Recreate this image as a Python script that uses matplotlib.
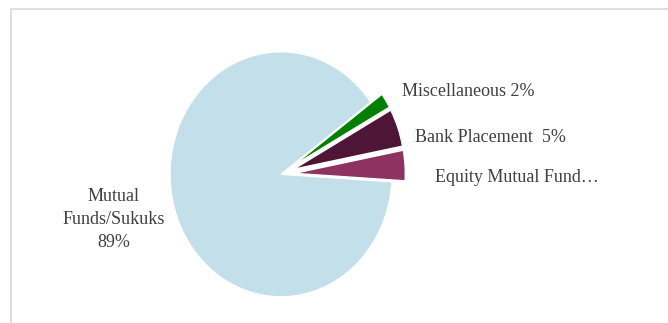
import matplotlib.pyplot as plt
from matplotlib.patches import Rectangle

# portfolio split, drawn counter-clockwise starting just below 3 o'clock
labels = ["Equity Mutual Fund…", "Bank Placement  5%", "Miscellaneous 2%", "Mutual\nFunds/Sukuks\n89%"]
shares = [4, 5, 2, 89]
colors = ["#8e3262", "#4f1537", "#008000", "#c2dfea"]
explode = [0.12, 0.12, 0.12, 0.0]

# label anchor points (data units) and alignment
label_pos = [(1.39, -0.03), (1.21, 0.30), (1.09, 0.675), (-1.51, -0.37)]
label_ha = ["left", "left", "left", "center"]

plt.rcParams["font.family"] = ["Liberation Serif", "DejaVu Serif"]

CX, CY, RX, RY = 281, 174.3, 111, 122.5  # pie centre / radii in pixels (from top-left)

fig = plt.figure(figsize=(6.68, 3.23), dpi=100)
ax = fig.add_axes([0, 0, 1, 1])

ax.pie(shares, colors=colors, explode=explode, startangle=-3.5,
       counterclock=True, wedgeprops=dict(edgecolor="white", linewidth=1))
ax.set_aspect("auto")
# pie is a little taller than wide
ax.set_xlim(-CX / RX, (668 - CX) / RX)
ax.set_ylim(-(323 - CY) / RY, CY / RY)
ax.axis("off")

for text, (x, y), ha in zip(labels, label_pos, label_ha):
    ax.text(x, y, text, ha=ha, va="center", fontsize=13, color="#404040",
            linespacing=1.48)

# chart area frame
fig.patches.append(Rectangle((11 / 668, -0.1), 1.2, 1.1 - 9.5 / 323,
                             transform=fig.transFigure, fill=False,
                             edgecolor="#d9d9d9", linewidth=1.2))

fig.savefig("out.png", dpi=100)
